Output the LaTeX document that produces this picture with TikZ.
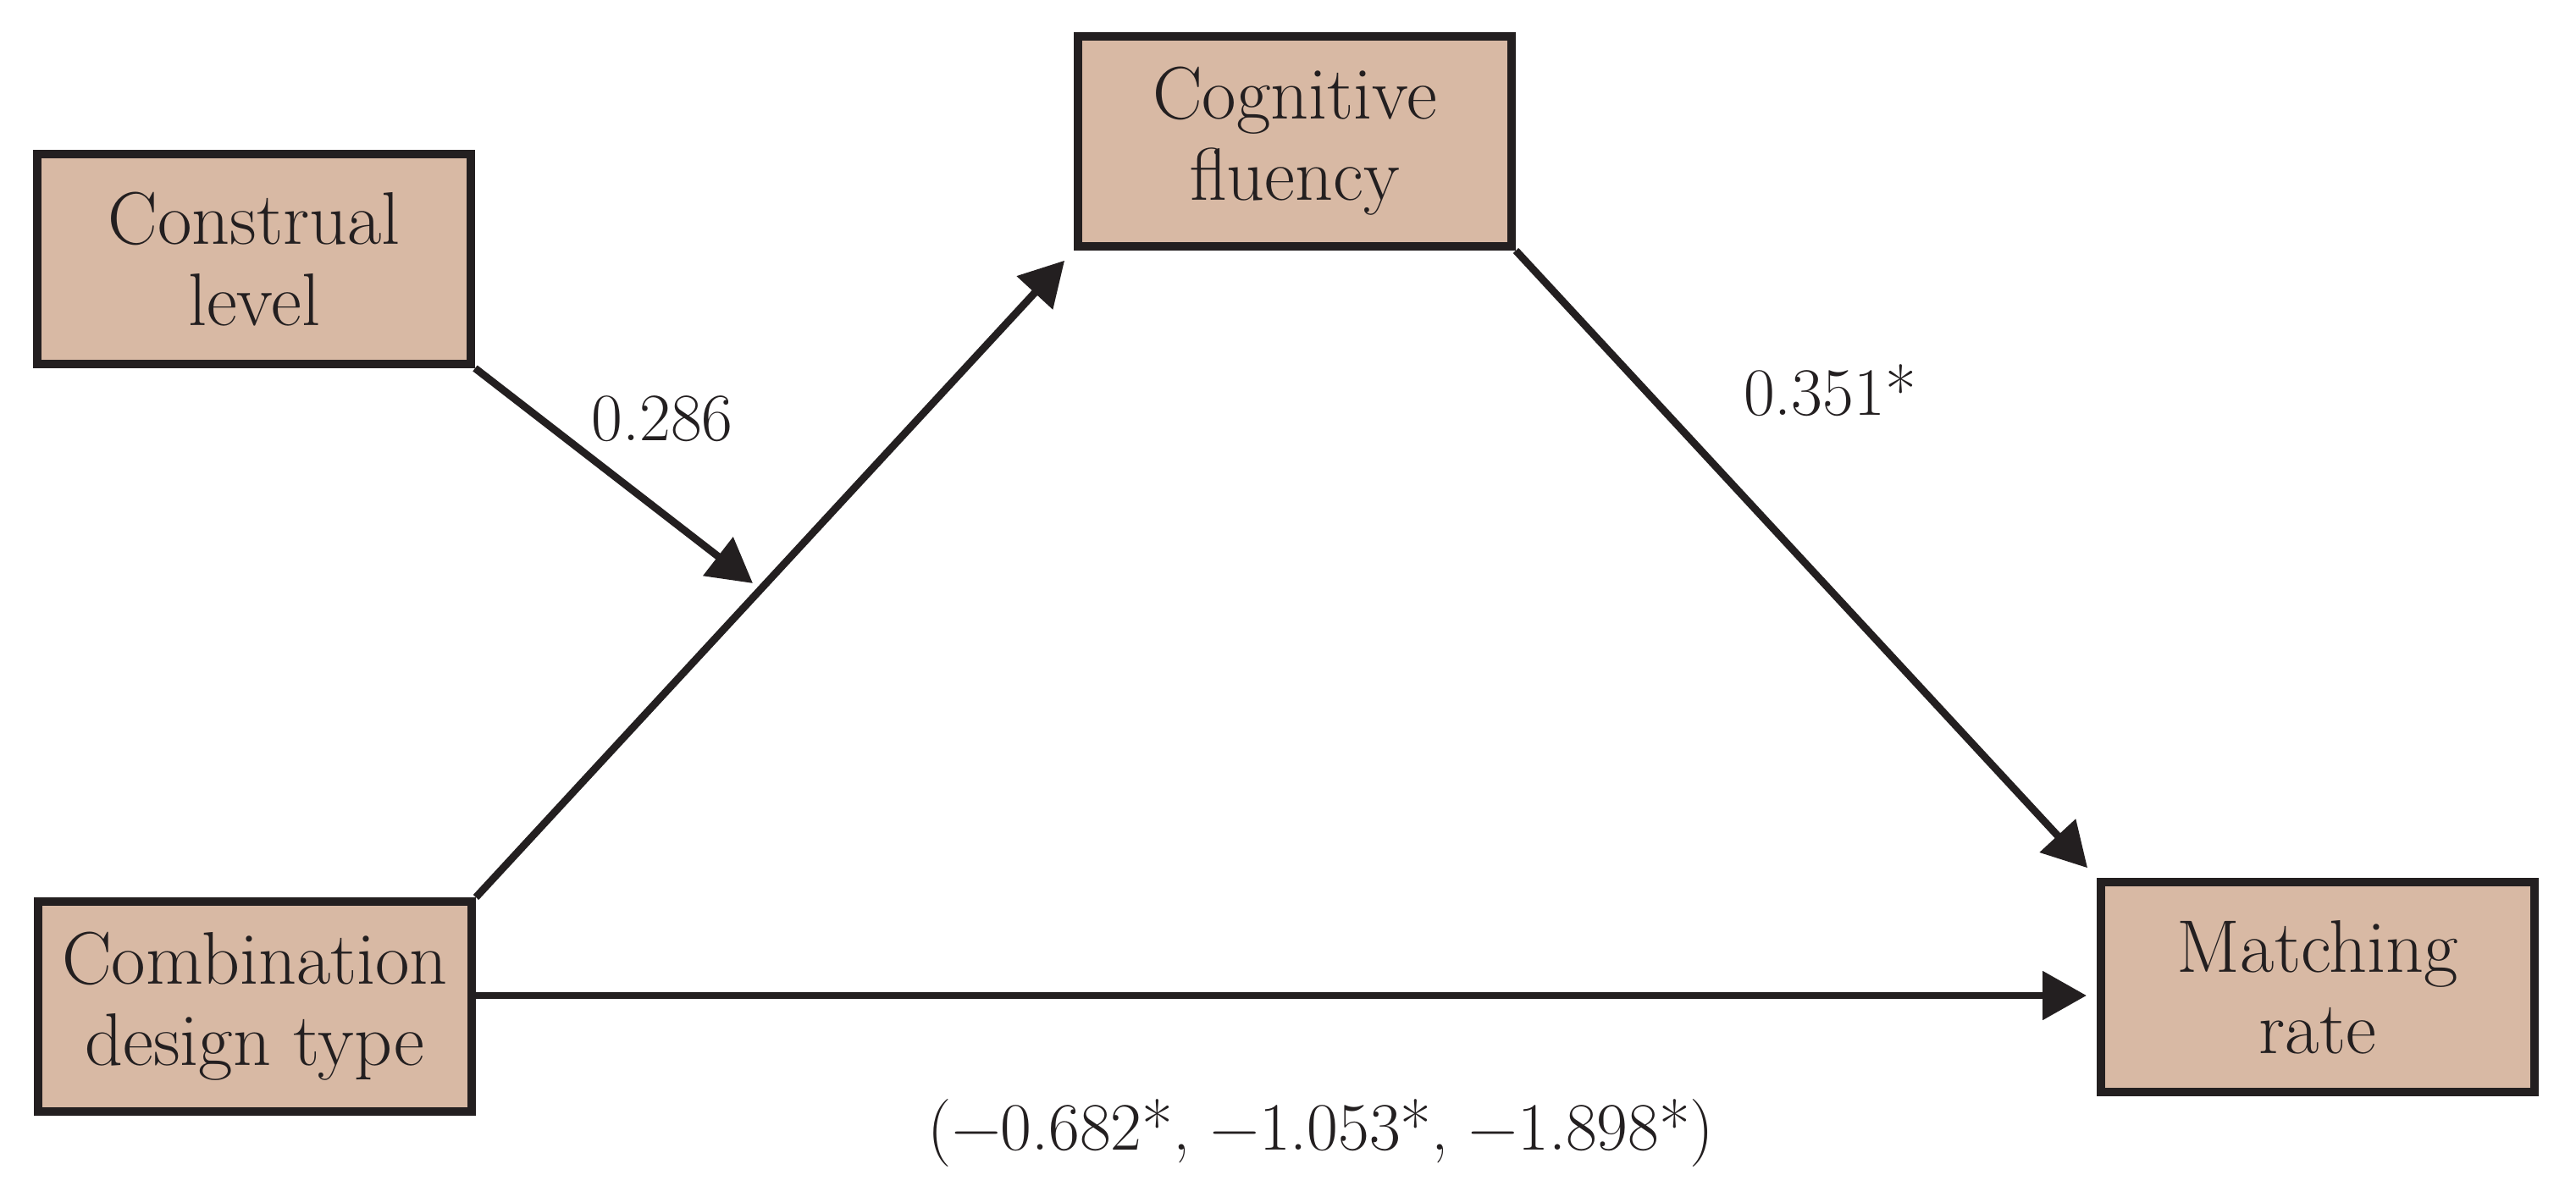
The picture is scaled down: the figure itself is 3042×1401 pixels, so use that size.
\documentclass[tikz,border=0pt]{standalone}
\usetikzlibrary{arrows.meta}
\definecolor{boxfill}{RGB}{216,185,164}
\definecolor{ink}{RGB}{35,31,32}
\begin{document}
\begin{tikzpicture}[x=0.25pt,y=-0.25pt,
  varbox/.style={draw=ink, fill=boxfill, line width=2.5pt, minimum width=128pt, minimum height=62pt, inner sep=0pt, align=center, text=ink, font=\fontsize{22}{24}\selectfont},
  arr/.style={draw=ink, line width=2.2pt, -{Triangle[length=13pt,width=14pt]}, shorten >=4pt},
  lbl/.style={text=ink, font=\fontsize{20}{24}\selectfont, inner sep=0pt}]
\useasboundingbox (0,0) rectangle (3042,1401);
\node[varbox] (cons) at (300,306) {Construal\\level};
\node[varbox] (cog) at (1529,167) {Cognitive\\fluency};
\node[varbox] (comb) at (301,1189) {Combination\\design type};
\node[varbox] (match) at (2737,1166) {Matching\\rate};
\coordinate (t1) at (889,689);
\coordinate (h) at (0,1176);
\draw[arr, shorten >=0pt] (cons.south east) -- (t1);
\draw[arr] (comb.north east) -- (cog.south west);
\draw[arr] (cog.south east) -- (match.north west);
\draw[arr, shorten >=3pt] (comb.east |- h) -- (match.west |- h);
\node[lbl] (l1) at (782,495) {0.286};
\node[lbl] (l2) at (2161,461) {0.351*};
\node[lbl] (l3) at (1560,1339) {(−0.682*, −1.053*, −1.898*)};
\end{tikzpicture}
\end{document}
